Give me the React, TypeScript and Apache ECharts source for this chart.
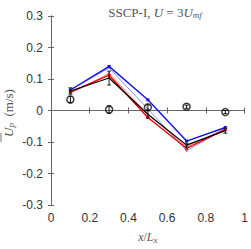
import React, { useEffect, useRef } from "react";
import * as echarts from "echarts";

const xs = [0.1, 0.3, 0.5, 0.7, 0.9];
const expY = [0.035, 0.003, 0.01, 0.012, -0.005];
const expErr = [0.01, 0.012, 0.008, 0.005, 0.005];
const blueThick = [0.065, 0.14, 0.034, -0.097, -0.054];
const blueThin = [0.065, 0.135, 0.005, -0.128, -0.058];
const redThick = [0.058, 0.112, -0.022, -0.12, -0.06];
const redThin = [0.054, 0.118, -0.012, -0.115, -0.057];
const blackLine = [0.062, 0.103, -0.012, -0.11, -0.064];
const blackErr = [0.01, 0.022, 0.012, 0.006, 0.008];
const xTicks = [0, 0.2, 0.4, 0.6, 0.8, 1];
const yTicks = [-0.3, -0.2, -0.1, 0, 0.1, 0.2, 0.3];

const pts = (ys: number[]) => xs.map((x, i) => [x, ys[i]]);

function errorSeries(ys: number[], errs: number[], color: string) {
  return {
    type: "custom",
    data: xs.map((x, i) => [x, ys[i] - errs[i], ys[i] + errs[i]]),
    renderItem: (params: any, api: any) => {
      const lo = api.coord([api.value(0), api.value(1)]);
      const hi = api.coord([api.value(0), api.value(2)]);
      const w = 2;
      return {
        type: "group",
        children: [
          { type: "line", shape: { x1: lo[0], y1: lo[1], x2: hi[0], y2: hi[1] }, style: { stroke: color, lineWidth: 1 } },
          { type: "line", shape: { x1: lo[0] - w, y1: lo[1], x2: lo[0] + w, y2: lo[1] }, style: { stroke: color, lineWidth: 1 } },
          { type: "line", shape: { x1: hi[0] - w, y1: hi[1], x2: hi[0] + w, y2: hi[1] }, style: { stroke: color, lineWidth: 1 } },
        ],
      };
    },
    z: 5,
  };
}

export default function App() {
  const ref = useRef<HTMLDivElement>(null);
  useEffect(() => {
    const chart = echarts.init(ref.current!, null, { renderer: "svg" });
    const axisColor = "#666";
    const labelColor = "#333";
    const serifC = "#555";
    const line = (ys: number[], color: string, width: number, sym: string, size: number) => ({
      type: "line",
      data: pts(ys),
      lineStyle: { color, width },
      itemStyle: { color },
      symbol: sym,
      symbolSize: size,
      showSymbol: true,
      z: 3,
    });
    const richSerif = (fs: number, sub: number, pad: number) => ({
      n: { fontFamily: "Liberation Serif", fontSize: fs, color: serifC, fill: serifC, fontWeight: "normal" },
      i: { fontFamily: "Liberation Serif", fontStyle: "italic", fontSize: fs, color: serifC, fill: serifC, fontWeight: "normal" },
      s: { fontFamily: "Liberation Serif", fontStyle: "italic", fontSize: sub, color: serifC, fill: serifC, fontWeight: "normal", padding: [pad, 0, 0, 0] },
    });
    chart.setOption({
      animation: false,
      title: {
        text: "{n|SSCP-I, }{i|U}{n| = 3}{i|U}{s|mf}",
        left: 150,
        textAlign: "center",
        top: 0,
        textStyle: { fontWeight: "normal", rich: richSerif(13, 9, 5) },
      },
      grid: { left: 51, right: 4, top: 16, bottom: 36 },
      xAxis: [
        {
          type: "value", min: 0, max: 1, interval: 0.2,
          axisLine: { lineStyle: { color: axisColor } },
          axisTick: { inside: true, length: 3, lineStyle: { color: axisColor } },
          axisLabel: { color: labelColor, fontFamily: "Liberation Sans", fontSize: 12, margin: 7, formatter: (v: number) => (xTicks.includes(v) ? String(v) : "") },
          splitLine: { show: false },
          name: "{i|x}{n|/}{i|L}{s|x}",
          nameLocation: "middle",
          nameGap: 25,
          nameTextStyle: { rich: richSerif(12, 9, 5) },
        },
        {
          type: "value", min: 0, max: 1, interval: 0.2, position: "top",
          axisLine: { show: true, lineStyle: { color: axisColor } },
          axisTick: { show: true, inside: true, length: 3, lineStyle: { color: axisColor } },
          axisLabel: { show: false },
          splitLine: { show: false },
        },
      ],
      yAxis: [
        {
          type: "value", min: -0.3, max: 0.3, interval: 0.1,
          axisLine: { show: true, lineStyle: { color: axisColor } },
          axisTick: { show: true, inside: true, length: 3, lineStyle: { color: axisColor } },
          axisLabel: {
            color: labelColor, fontFamily: "Liberation Sans", fontSize: 12, margin: 8,
            formatter: (v: number) => {
              const r = Math.round(v * 10) / 10;
              return yTicks.includes(r) ? (r === 0 ? "0" : String(r)) : "";
            },
          },
          splitLine: { show: false },
        },
        {
          type: "value", min: -0.3, max: 0.3, interval: 0.1, position: "right",
          axisLine: { show: true, lineStyle: { color: axisColor } },
          axisTick: { show: true, inside: true, length: 3, lineStyle: { color: axisColor } },
          axisLabel: { show: false },
          splitLine: { show: false },
        },
      ],
      graphic: [
        {
          type: "group",
          x: 8,
          y: 113,
          rotation: Math.PI / 2,
          children: [
            {
              type: "text",
              x: 0,
              y: 0,
              style: {
                text: "{i|U}{s|p}{n|  (m/s)}",
                align: "center",
                verticalAlign: "middle",
                rich: richSerif(13, 9, 6),
              },
            },
            { type: "line", shape: { x1: -29, y1: -7, x2: -20, y2: -7 }, style: { stroke: serifC, lineWidth: 0.8 } },
          ],
        },
      ],
      series: [
        line(blueThin, "#7070ff", 0.8, "circle", 2),
        line(redThin, "#ff7070", 0.8, "circle", 2),
        line(redThick, "#ee0000", 1.4, "rect", 3),
        line(blueThick, "#1010ee", 1.4, "rect", 3),
        line(blackLine, "#000000", 1.2, "circle", 2),
        errorSeries(blackLine, blackErr, "#222"),
        errorSeries(expY, expErr, "#111"),
        {
          type: "scatter",
          data: pts(expY),
          symbol: "circle",
          symbolSize: 7,
          itemStyle: { color: "rgba(255,255,255,0)", borderColor: "#111", borderWidth: 1.5 },
          z: 6,
        },
      ],
    });
    return () => chart.dispose();
  }, []);
  return <div ref={ref} style={{ width: 251, height: 249, position: "absolute", left: 0, top: 0 }} />;
}
